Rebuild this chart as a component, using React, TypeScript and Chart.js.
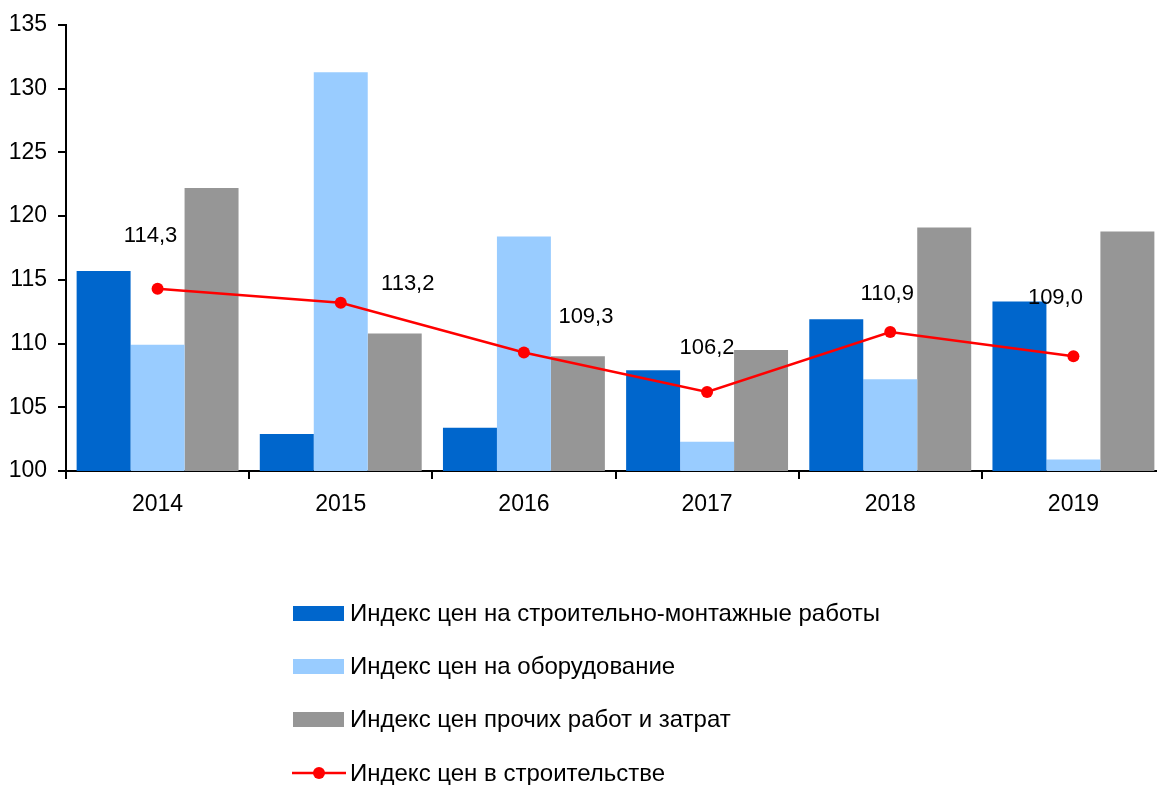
import React, { useEffect, useRef } from "react";
import { Chart, registerables } from "chart.js";

Chart.register(...registerables);

const categories = ["2014", "2015", "2016", "2017", "2018", "2019"];
const smrIndex = [115.7, 102.9, 103.4, 107.9, 111.9, 113.3];
const equipmentIndex = [109.9, 131.3, 118.4, 102.3, 107.2, 100.9];
const otherIndex = [122.2, 110.8, 109.0, 109.5, 119.1, 118.8];
const constructionIndex = [114.3, 113.2, 109.3, 106.2, 110.9, 109.0];
const yTicks = [100, 105, 110, 115, 120, 125, 130, 135];

const seriesNames = [
  "Индекс цен на строительно-монтажные работы",
  "Индекс цен на оборудование",
  "Индекс цен прочих работ и затрат",
  "Индекс цен в строительстве",
];

const COLORS = ["#0066CC", "#99CCFF", "#969696", "#FF0000"];
const FONT = "'Liberation Sans', Arial, sans-serif";

// label placement offsets (style only)
const labelOffsets = [
  [-7, -53],
  [67, -19],
  [62, -36],
  [0, -44],
  [-3, -38],
  [-18, -58],
];

const dataLabelPlugin = {
  id: "dataLabels",
  afterDatasetsDraw(chart: any) {
    const meta = chart.getDatasetMeta(3);
    const ctx = chart.ctx;
    ctx.save();
    ctx.font = `22px ${FONT}`;
    ctx.fillStyle = "#000";
    ctx.textAlign = "center";
    ctx.textBaseline = "middle";
    meta.data.forEach((pt: any, i: number) => {
      const v = constructionIndex[i].toFixed(1).replace(".", ",");
      const [dx, dy] = labelOffsets[i];
      ctx.fillText(v, pt.x + dx, pt.y + dy);
    });
    ctx.restore();
  },
};

const legendPlugin = {
  id: "customLegend",
  afterDraw(chart: any) {
    const ctx = chart.ctx;
    ctx.save();
    const x0 = 293;
    const rows = [613, 666, 719, 773];
    ctx.font = `24px ${FONT}`;
    ctx.textBaseline = "middle";
    ctx.textAlign = "left";
    seriesNames.forEach((name, i) => {
      const y = rows[i];
      if (i < 3) {
        ctx.fillStyle = COLORS[i];
        ctx.fillRect(x0, y - 7, 51, 15);
      } else {
        ctx.strokeStyle = COLORS[3];
        ctx.lineWidth = 2.5;
        ctx.beginPath();
        ctx.moveTo(x0 - 1, y);
        ctx.lineTo(x0 + 53, y);
        ctx.stroke();
        ctx.fillStyle = COLORS[3];
        ctx.beginPath();
        ctx.arc(x0 + 26, y, 6, 0, Math.PI * 2);
        ctx.fill();
      }
      ctx.fillStyle = "#000";
      ctx.fillText(name, x0 + 57, y + 1);
    });
    ctx.restore();
  },
};

export default function App() {
  const ref = useRef<HTMLCanvasElement>(null);

  useEffect(() => {
    document.body.style.margin = "0";
    document.body.style.overflow = "hidden";
    const canvas = ref.current!;
    const chart = new Chart(canvas, {
      type: "bar",
      data: {
        labels: categories,
        datasets: [
          { label: seriesNames[0], data: smrIndex, backgroundColor: COLORS[0], order: 1 },
          { label: seriesNames[1], data: equipmentIndex, backgroundColor: COLORS[1], order: 1 },
          { label: seriesNames[2], data: otherIndex, backgroundColor: COLORS[2], order: 1 },
          {
            type: "line",
            label: seriesNames[3],
            data: constructionIndex,
            borderColor: COLORS[3],
            backgroundColor: COLORS[3],
            borderWidth: 2.5,
            pointRadius: 6,
            pointHoverRadius: 6,
            pointBackgroundColor: COLORS[3],
            pointBorderWidth: 0,
            tension: 0,
            order: 0,
          } as any,
        ],
      },
      options: {
        responsive: false,
        animation: false,
        categoryPercentage: 0.884,
        barPercentage: 1.0,
        layout: { padding: { left: 0, right: 0, top: 25, bottom: 274 } },
        plugins: { legend: { display: false }, tooltip: { enabled: false } },
        scales: {
          x: {
            offset: true,
            grid: { offset: true, drawOnChartArea: false, drawTicks: true, tickLength: 8, color: "#000", lineWidth: 2 },
            border: { display: true, color: "#000", width: 2 },
            ticks: { color: "#000", font: { family: FONT, size: 23 }, padding: 12 },
            afterFit: (s: any) => { s.height = 40; },
          },
          y: {
            min: 100,
            max: 135,
            afterBuildTicks: (s: any) => { s.ticks = yTicks.map((v) => ({ value: v })); },
            grid: { drawOnChartArea: false, drawTicks: true, tickLength: 8, color: "#000", lineWidth: 2 },
            border: { display: true, color: "#000", width: 2 },
            ticks: { color: "#000", font: { family: FONT, size: 23 }, padding: 11 },
            afterFit: (s: any) => { s.width = 66; },
          },
        },
      } as any,
      plugins: [dataLabelPlugin, legendPlugin],
    });
    return () => chart.destroy();
  }, []);

  return (
    <div style={{ width: 1157, height: 785, overflow: "hidden" }}>
      <canvas ref={ref} width={1171} height={785} style={{ display: "block" }} />
    </div>
  );
}
